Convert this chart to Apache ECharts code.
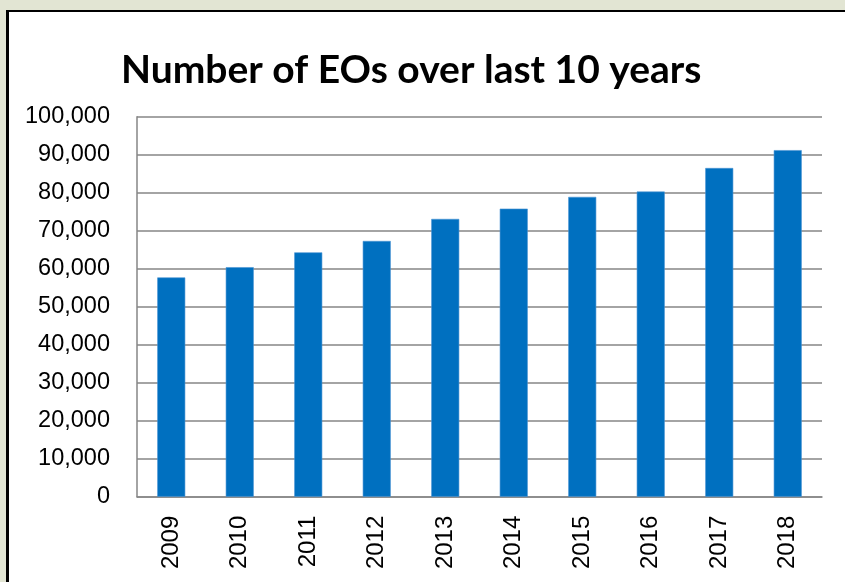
<!DOCTYPE html>
<html>
<head>
<meta charset="utf-8">
<script src="https://cdn.jsdelivr.net/npm/echarts@6/dist/echarts.min.js"></script>
<style>
  html, body { margin: 0; padding: 0; overflow: hidden; }
  body { width: 845px; height: 582px; background: #fff; position: relative; }
  #bgTop { position: absolute; left: 0; top: 0; width: 845px; height: 10px; background: #e2e5d3; }
  #bgLeft { position: absolute; left: 0; top: 0; width: 6px; height: 582px; background: #e2e5d3; }
  #lineTop { position: absolute; left: 6px; top: 10px; width: 839px; height: 2px; background: #000; }
  #lineLeft { position: absolute; left: 6px; top: 10px; width: 3px; height: 572px; background: #000; }
  #main { position: absolute; left: 0; top: 0; width: 845px; height: 582px; }
</style>
</head>
<body>
<div id="bgTop"></div>
<div id="bgLeft"></div>
<div id="lineTop"></div>
<div id="lineLeft"></div>
<div id="main"></div>
<script>
/* EOs per year */
var years = ['2009', '2010', '2011', '2012', '2013', '2014', '2015', '2016', '2017', '2018'];
var eoCounts = [57700, 60400, 64300, 67300, 73100, 75800, 78900, 80300, 86500, 91200];
var yMax = 100000;
var yStep = 10000;

var chart = echarts.init(document.getElementById('main'));
chart.setOption({
    backgroundColor: 'transparent',
    animation: false,
    title: {
        text: 'Number of EOs over last 10 years',
        left: 116,
        top: 46,
        textStyle: {
            fontFamily: 'Lato',
            fontWeight: 'bold',
            fontSize: 39,
            color: '#000'
        }
    },
    grid: {
        left: 137,
        top: 116.7,
        right: 23,
        bottom: 85.3
    },
    xAxis: {
        type: 'category',
        data: years,
        axisLine: { lineStyle: { color: '#868686', width: 1.5 } },
        axisTick: { show: false },
        axisLabel: {
            rotate: 90,
            margin: 19,
            fontFamily: 'Liberation Sans',
            fontSize: 24,
            color: '#000'
        }
    },
    yAxis: {
        type: 'value',
        min: 0,
        max: yMax,
        interval: yStep,
        axisLine: { show: true, lineStyle: { color: '#868686', width: 1.5 } },
        axisTick: { show: false },
        splitLine: { lineStyle: { color: '#868686', width: 1.5 } },
        axisLabel: {
            margin: 27,
            fontFamily: 'Liberation Sans',
            fontSize: 23.5,
            color: '#000',
            formatter: function (v) { return v.toLocaleString('en-US'); }
        }
    },
    series: [{
        type: 'bar',
        data: eoCounts,
        barWidth: 28,
        itemStyle: { color: '#0070c0', borderColor: '#4a94d4', borderWidth: 0.6 }
    }]
});
</script>
</body>
</html>
